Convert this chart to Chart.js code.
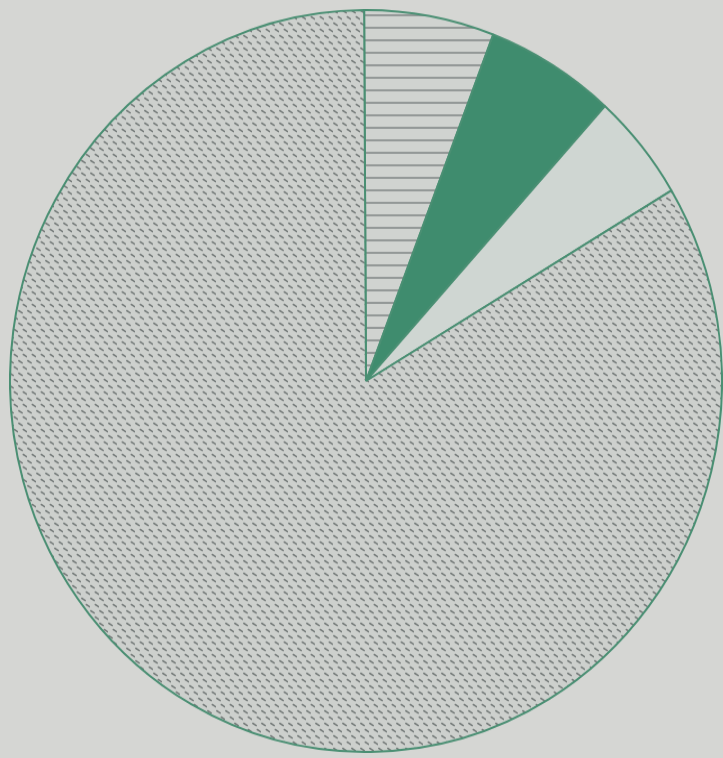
<!DOCTYPE html>
<html>
<head>
<meta charset="utf-8">
<script src="https://cdn.jsdelivr.net/npm/chart.js@4/dist/chart.umd.min.js"></script>
<style>
  html, body { margin: 0; padding: 0; width: 723px; height: 758px; overflow: hidden; background: #d5d6d3; }
  #wrap { position: absolute; left: 9px; top: 24px; width: 714px; height: 714px; transform: scaleY(1.042); transform-origin: 50% 50%; }
</style>
</head>
<body>
<div id="wrap"><canvas id="c" width="714" height="714"></canvas></div>
<script>
const categories = ["Striped segment", "Green segment", "Light segment", "Dotted segment"];
const values = [5.9, 5.9, 4.7, 83.5];

function makePattern(kind) {
  const t = document.createElement('canvas');
  const g = t.getContext('2d');
  if (kind === 'lines') {
    t.width = 12; t.height = 12;
    g.fillStyle = '#d0d3d0'; g.fillRect(0, 0, 12, 12);
    g.strokeStyle = '#626968'; g.lineWidth = 1.1;
    g.beginPath(); g.moveTo(0, 6); g.lineTo(12, 6); g.stroke();
  } else {
    t.width = 9; t.height = 12;
    g.fillStyle = '#cdd0cd'; g.fillRect(0, 0, 9, 12);
    g.strokeStyle = '#767c7b'; g.lineWidth = 1.5; g.lineCap = 'round';
    g.beginPath(); g.moveTo(0.8, 1.5); g.lineTo(4.2, 3.6); g.stroke();
    g.beginPath(); g.moveTo(5.3, 7.5); g.lineTo(8.7, 9.6); g.stroke();
  }
  return document.getElementById('c').getContext('2d').createPattern(t, 'repeat');
}

const fills = [makePattern('lines'), '#3f8c6e', '#cfd6d2', makePattern('dots')];

new Chart(document.getElementById('c'), {
  type: 'pie',
  data: {
    labels: categories,
    datasets: [{
      data: values,
      backgroundColor: fills,
      borderColor: '#4a8f73',
      borderWidth: 2
    }]
  },
  options: {
    responsive: false,
    animation: false,
    rotation: -0.3,
    layout: { padding: 0 },
    plugins: { legend: { display: false }, tooltip: { enabled: false } }
  }
});
</script>
</body>
</html>
